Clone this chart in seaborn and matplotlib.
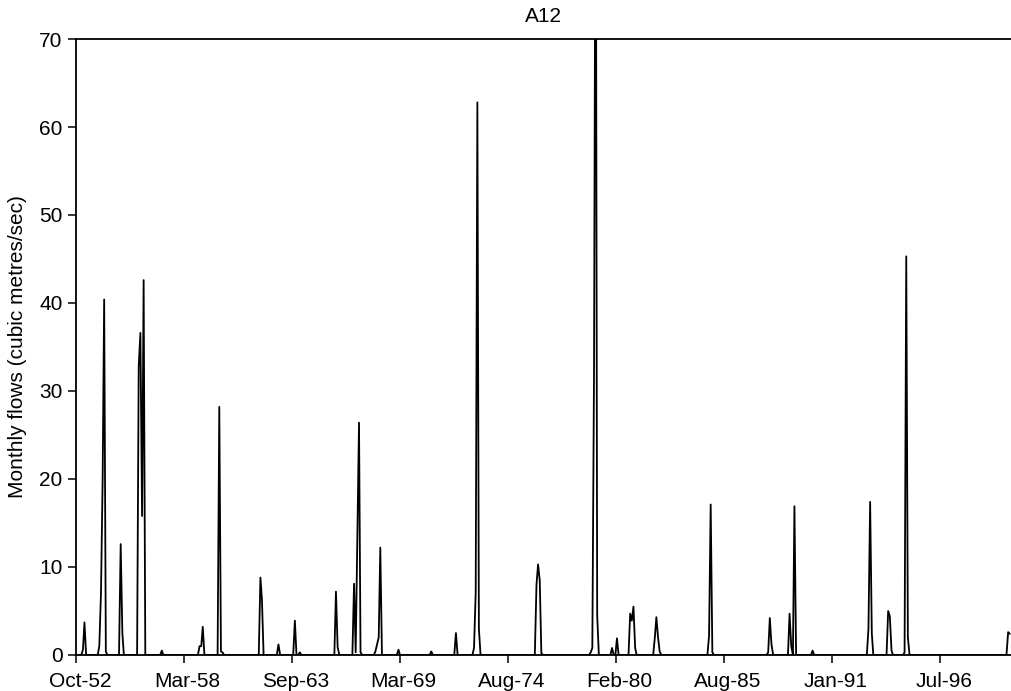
import numpy as np
import pandas as pd
import matplotlib
matplotlib.use("Agg")
import matplotlib.pyplot as plt
import matplotlib.dates as mdates
import matplotlib.transforms as mtransforms
import seaborn as sns

# Monthly flow series, station A12, starting Oct 1952 (month index 0).
# Only non-zero months are listed; every other month is zero flow.
start_date = "1952-10-01"
n_months = 569
event_month = [4, 5, 14, 15, 16, 17, 18, 27, 28, 38, 39, 40, 41, 52,
               75, 76, 77, 87, 88, 89, 112, 113, 123, 133, 136,
               158, 159, 169, 170, 171, 172, 173, 182, 183, 184, 185,
               196, 216, 231, 242, 243, 244, 245,
               280, 281, 282, 283, 313, 314, 315, 316, 317,
               326, 329, 337, 338, 339, 340, 352, 353, 354, 355,
               385, 386, 387, 421, 422, 423, 434, 435, 437, 448,
               482, 483, 484, 494, 495, 496, 504, 505, 506, 567, 568]
event_flow = [0.6, 3.7, 1.0, 7.0, 20.0, 40.4, 0.4, 12.6, 2.5, 32.8, 36.6, 15.8, 42.6, 0.5,
              1.0, 1.0, 3.2, 28.2, 0.4, 0.3, 8.8, 6.3, 1.2, 3.9, 0.3,
              7.2, 0.9, 8.1, 0.3, 13.0, 26.4, 0.3, 0.4, 1.2, 2.0, 12.2,
              0.6, 0.4, 2.5, 0.8, 7.1, 62.8, 3.0,
              8.0, 10.3, 8.5, 0.2, 0.3, 0.8, 31.7, 100.0, 4.5,
              0.8, 1.9, 4.7, 3.9, 5.5, 0.8, 2.0, 4.3, 2.0, 0.4,
              2.2, 17.1, 0.3, 0.3, 4.2, 1.2, 4.7, 1.0, 16.9, 0.5,
              3.0, 17.4, 2.5, 5.0, 4.4, 0.5, 0.3, 45.3, 2.0, 2.6, 2.4]

y_ticks = [0, 10, 20, 30, 40, 50, 60, 70]
tick_step_days = 2000

dates = pd.date_range(start_date, periods=n_months, freq="MS")
flows = np.zeros(n_months)
flows[event_month] = event_flow
data = pd.DataFrame({"date": dates, "flow": flows})

sns.set_style("ticks")
plt.rcParams["font.family"] = ["Liberation Sans", "DejaVu Sans"]
plt.rcParams["text.color"] = "black"
plt.rcParams["axes.labelcolor"] = "black"
plt.rcParams["xtick.color"] = "black"
plt.rcParams["ytick.color"] = "black"

fig = plt.figure(figsize=(10.11, 6.91), dpi=100)
ax = fig.add_axes([76.3 / 1011, 1 - 655 / 691, (1011 - 76.3) / 1011, (655 - 39) / 691])

sns.lineplot(data=data, x="date", y="flow", color="black", linewidth=1.3, ax=ax)

t0 = pd.Timestamp(start_date)
ax.set_xlim(t0, t0 + pd.Timedelta(days=17311))
ax.set_ylim(0, 70)
ax.set_xticks([t0 + pd.Timedelta(days=tick_step_days * k) for k in range(9)])
ax.xaxis.set_major_formatter(mdates.DateFormatter("%b-%y"))
ax.set_yticks(y_ticks)

ax.set_xlabel("")
ax.set_ylabel("Monthly flows (cubic metres/sec)", fontsize=15, labelpad=9)
ax.set_title("A12", fontsize=15, pad=12)
ax.tick_params(axis="both", labelsize=15, length=6, width=1.1, direction="out")
ax.tick_params(axis="y", pad=4)
ax.tick_params(axis="x", pad=6)

for side in ["left", "top", "bottom"]:
    ax.spines[side].set_linewidth(1.3)
    ax.spines[side].set_color("black")
ax.spines["right"].set_visible(False)

# Excel-style slight shift of the date labels
shift = mtransforms.ScaledTranslation(3.5 / 100, 0, fig.dpi_scale_trans)
for label in ax.get_xticklabels():
    label.set_transform(label.get_transform() + shift)

fig.savefig("out.png", dpi=100)
